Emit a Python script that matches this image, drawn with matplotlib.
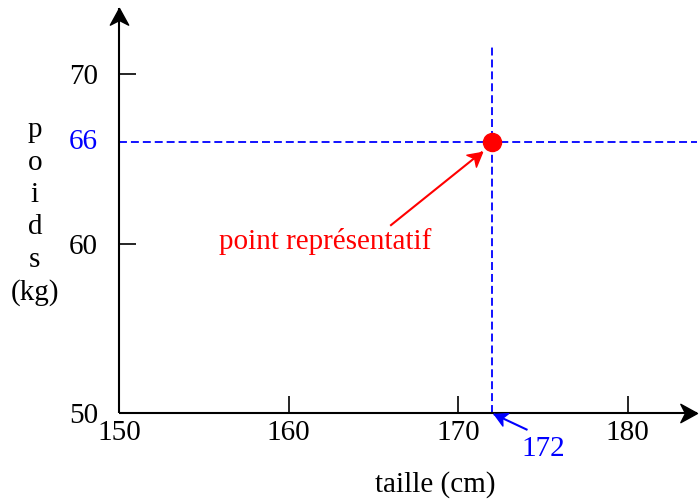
"""Point représentatif (taille, poids) sur un repère avec lignes de rappel."""
import matplotlib.pyplot as plt
import matplotlib
from matplotlib.path import Path
from matplotlib.markers import MarkerStyle
from matplotlib.transforms import Affine2D
import numpy as np

matplotlib.rcParams['font.family'] = 'Liberation Serif'

# Data
x_ticks = [150, 160, 170, 180]
y_ticks = [50, 60, 70]
taille = 172
poids = 66
x_max, y_max = 184.1, 73.9
v_line_top = 71.7

FS = 21
BLUE = '#0000ff'
RED = '#ff0000'

fig = plt.figure(figsize=(7, 4.99), dpi=100)
W, H = 700, 499
x0, y0, x1, y1 = 119, 413, 697, 8
ax = fig.add_axes([x0 / W, (H - y0) / H, (x1 - x0) / W, (y0 - y1) / H])
ax.set_xlim(150, x_max)
ax.set_ylim(50, y_max)
for s in ax.spines.values():
    s.set_visible(False)

# stealth-like arrow head, tip at the origin pointing +x
stealth = Path([(0, 0), (-1, 0.55), (-0.72, 0), (-1, -0.55), (0, 0)],
               [Path.MOVETO, Path.LINETO, Path.LINETO, Path.LINETO,
                Path.CLOSEPOLY])


def head(x, y, angle, color, size):
    m = MarkerStyle(stealth, transform=Affine2D().rotate_deg(angle))
    ax.plot([x], [y], marker=m, color=color, markersize=size, lw=0,
            clip_on=False, zorder=6)


def arrow(xa, ya, xb, yb, color, size, lw=1.5):
    ax.plot([xa, xb], [ya, yb], color=color, lw=lw, clip_on=False,
            solid_capstyle='butt', zorder=6)
    p = ax.transData.transform([(xa, ya), (xb, yb)])
    ang = np.degrees(np.arctan2(p[1, 1] - p[0, 1], p[1, 0] - p[0, 0]))
    head(xb, yb, ang, color, size)


# axes
arrow(150, 50, x_max, 50, 'black', 24)
arrow(150, 50, 150, y_max, 'black', 24)

# ticks
ax.set_xticks(x_ticks)
ax.set_yticks(y_ticks)
ax.set_xticklabels([str(v) for v in x_ticks])
ax.set_yticklabels([str(v) for v in y_ticks])
ax.tick_params(axis='x', direction='in', length=12, width=1.2, pad=5,
               labelsize=FS)
ax.tick_params(axis='y', direction='in', length=12, width=1.2, pad=15,
               labelsize=FS)

# dashed guide lines
dash = (4.4, 2.2)
ax.plot([150, x_max], [poids, poids], color=BLUE, lw=1.3, dashes=dash,
        clip_on=False)
ax.plot([taille, taille], [50, v_line_top], color=BLUE, lw=1.3, dashes=dash,
        clip_on=False)

# point
ax.plot([taille], [poids], 'o', color=RED, markersize=13, zorder=7)

# labels
ax.annotate('66', xy=(150, poids), xytext=(-15, 0), textcoords='offset points',
            ha='right', va='center', color=BLUE, fontsize=FS)
ax.text(175.04, 47.87, '172', ha='center', va='center', color=BLUE,
        fontsize=FS, clip_on=False)
arrow(174.1, 49.0, 172.1, 49.94, BLUE, 18)

ax.text(162.17, 60.1, 'point représentatif', ha='center', va='center',
        color=RED, fontsize=FS)
arrow(166.0, 61.05, 171.44, 65.42, RED, 20)

ax.text(168.66, 45.8, 'taille (cm)', ha='center', va='center', fontsize=FS,
        clip_on=False)
ax.text(145.04, 61.87, 'p\no\ni\nd\ns\n(kg)', ha='center', va='center',
        fontsize=FS, linespacing=1.32, multialignment='center', clip_on=False)

fig.savefig('out.png', dpi=100, facecolor='white')
